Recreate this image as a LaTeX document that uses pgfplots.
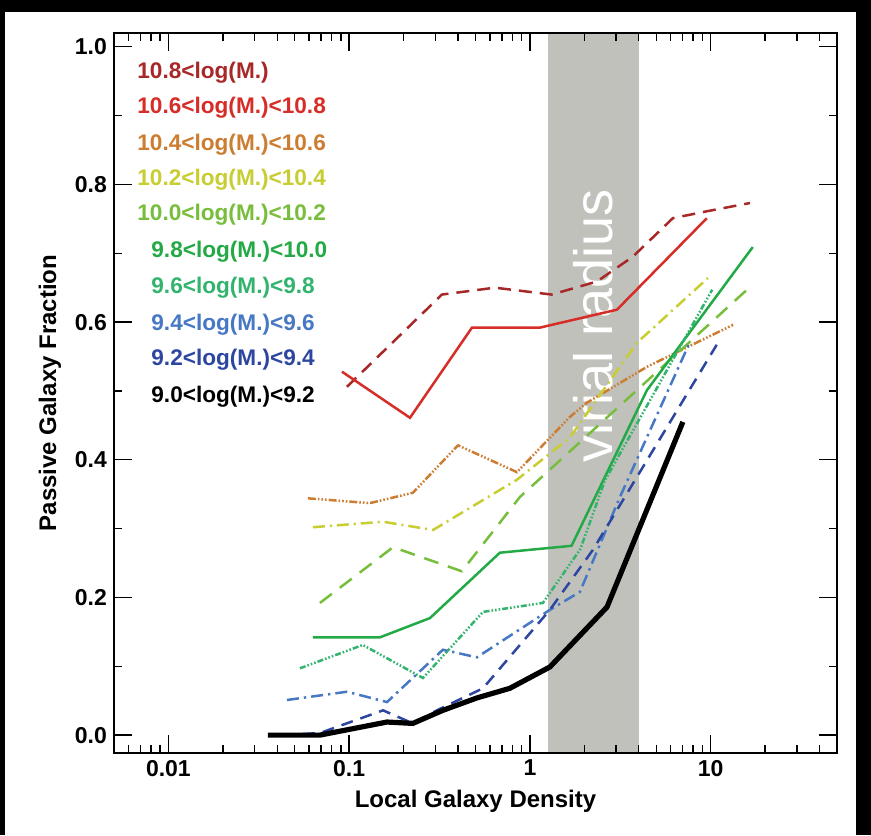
\documentclass[border=0pt]{standalone}
\usepackage{pgfplots}
\pgfplotsset{compat=1.18}
\usepackage{fontspec}
\setmainfont{Liberation Sans}

\definecolor{c108}{RGB}{168,40,40}
\definecolor{c106}{RGB}{215,45,40}
\definecolor{c104}{RGB}{205,125,50}
\definecolor{c102}{RGB}{200,205,50}
\definecolor{c100}{RGB}{120,190,60}
\definecolor{c98}{RGB}{35,170,70}
\definecolor{c96}{RGB}{50,180,110}
\definecolor{c94}{RGB}{70,120,195}
\definecolor{c92}{RGB}{45,70,160}
\definecolor{bandgray}{RGB}{193,193,188}

\newcommand\leg{\fontsize{11.3}{13}\selectfont\bfseries}

\begin{document}
\begin{tikzpicture}[x=0.5pt,y=0.5pt]
\fill[black] (0,0) rectangle (871,835);
\fill[white] (5,0) rectangle (856,823);

\begin{axis}[
    at={(57pt,41pt)}, anchor=south west,
    width=361.5pt, height=360pt, scale only axis,
    xmode=log, xmin=0.005, xmax=50,
    ymin=-0.026, ymax=1.02,
    axis on top,
    axis line style={line width=1pt},
    tick align=inside,
    major tick length=9pt, minor tick length=4pt,
    every tick/.style={black, line width=0.7pt},
    xtick={0.01,0.1,1,10}, xticklabels={0.01,0.1,1,10},
    minor xtick={0.006,0.007,0.008,0.009,
                 0.02,0.03,0.04,0.05,0.06,0.07,0.08,0.09,
                 0.2,0.3,0.4,0.5,0.6,0.7,0.8,0.9,
                 2,3,4,5,6,7,8,9,20,30,40},
    ytick={0,0.2,0.4,0.6,0.8,1.0},
    minor ytick={0.1,0.3,0.5,0.7,0.9},
    /pgf/number format/assume math mode=true,
    y tick label style={/pgf/number format/.cd,fixed,fixed zerofill,precision=1,/tikz/.cd},
    ticklabel style={font=\fontsize{11.5}{13}\selectfont\bfseries},
    xlabel={Local Galaxy Density},
    ylabel={Passive Galaxy Fraction},
    label style={font=\fontsize{12}{14}\selectfont\bfseries},
]

% virial radius band
\addplot[draw=none, fill=bandgray] coordinates {(1.26,-0.026) (1.26,1.02) (4.0,1.02) (4.0,-0.026)} -- cycle;
\node[rotate=90, text=white, font=\fontsize{27}{27}\selectfont] at (axis cs:2.23,0.595) {virial radius};

% 10.8 < log M
\addplot[c108, line width=1.25pt, dash pattern=on 6.5pt off 4pt] coordinates {
 (0.0972,0.506) (0.326,0.640) (0.640,0.650) (1.32,0.640) (2.35,0.659)
 (3.71,0.695) (6.18,0.751) (9.53,0.761) (16.5,0.773)};
% 10.6 - 10.8
\addplot[c106, line width=1.25pt] coordinates {
 (0.0912,0.528) (0.217,0.461) (0.478,0.592) (1.136,0.592) (3.03,0.618) (9.53,0.751)};
% 10.4 - 10.6
\addplot[c104, line width=1.25pt, dash pattern=on 4pt off 1pt on 0.8pt off 1pt on 0.8pt off 1pt on 0.8pt off 1pt] coordinates {
 (0.0591,0.344) (0.130,0.337) (0.225,0.352) (0.400,0.421) (0.848,0.382)
 (1.66,0.462) (2.07,0.483) (4.44,0.535) (13.3,0.596)};
% 10.2 - 10.4
\addplot[c102, line width=1.25pt, dash pattern=on 6pt off 2.5pt on 1pt off 2.5pt] coordinates {
 (0.0630,0.302) (0.154,0.310) (0.291,0.298) (0.848,0.371) (1.66,0.432)
 (3.91,0.570) (9.66,0.664)};
% 10.0 - 10.2
\addplot[c100, line width=1.25pt, dash pattern=on 7.5pt off 5pt] coordinates {
 (0.0689,0.192) (0.175,0.273) (0.420,0.238) (0.881,0.346) (16.5,0.651)};
% 9.8 - 10.0
\addplot[c98, line width=1.25pt] coordinates {
 (0.0630,0.142) (0.148,0.142) (0.280,0.170) (0.682,0.265) (1.70,0.275)
 (4.44,0.501) (17.1,0.709)};
% 9.6 - 9.8
\addplot[c96, line width=1.25pt, dash pattern=on 3pt off 1pt on 0.8pt off 1pt on 0.8pt off 1pt on 0.8pt off 1pt] coordinates {
 (0.0534,0.097) (0.119,0.131) (0.256,0.083) (0.550,0.179) (1.18,0.192)
 (1.90,0.270) (2.60,0.370) (10.2,0.647)};
% 9.4 - 9.6
\addplot[c94, line width=1.25pt, dash pattern=on 6pt off 2.5pt on 1.2pt off 2.5pt] coordinates {
 (0.0453,0.051) (0.0972,0.063) (0.162,0.048) (0.330,0.124) (0.509,0.113)
 (1.29,0.182) (1.89,0.208) (3.15,0.346) (7.68,0.571)};
% 9.2 - 9.4
\addplot[c92, line width=1.25pt, dash pattern=on 6pt off 4pt] coordinates {
 (0.0430,0.000) (0.0689,0.003) (0.154,0.036) (0.225,0.017) (0.306,0.036)
 (0.550,0.068) (1.29,0.182) (2.23,0.269) (10.8,0.567)};
% 9.0 - 9.2
\addplot[black, line width=2.6pt] coordinates {
 (0.0355,0.000) (0.0689,0.000) (0.162,0.019) (0.225,0.017) (0.330,0.036)
 (0.509,0.054) (0.775,0.068) (1.29,0.099) (2.67,0.186) (7.02,0.455)};
\end{axis}

\begin{scope}[every node/.style={anchor=west, inner sep=0pt, font=\leg}]
\node[text=c108] at (137,762) {10.8<log(M.)};
\node[text=c106] at (137,727) {10.6<log(M.)<10.8};
\node[text=c104] at (137,690) {10.4<log(M.)<10.6};
\node[text=c102] at (137,655) {10.2<log(M.)<10.4};
\node[text=c100] at (137,620) {10.0<log(M.)<10.2};
\node[text=c98]  at (151,583) {9.8<log(M.)<10.0};
\node[text=c96]  at (151,547) {9.6<log(M.)<9.8};
\node[text=c94]  at (151,510) {9.4<log(M.)<9.6};
\node[text=c92]  at (151,475) {9.2<log(M.)<9.4};
\node[text=black] at (151,438) {9.0<log(M.)<9.2};
\end{scope}
\end{tikzpicture}
\end{document}
